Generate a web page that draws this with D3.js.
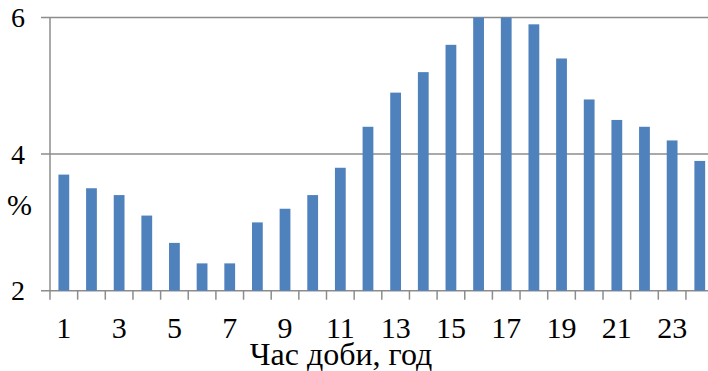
<!DOCTYPE html>
<html>
<head>
<meta charset="utf-8">
<script src="https://cdn.jsdelivr.net/npm/d3@7"></script>
</head>
<body style="margin:0">
<svg id="chart" width="708" height="371"></svg>
<script>
const hours = d3.range(1, 25).map(String);
const values = [3.7, 3.5, 3.4, 3.1, 2.7, 2.4, 2.4, 3.0, 3.2, 3.4, 3.8, 4.4,
                4.9, 5.2, 5.6, 6.0, 6.0, 5.9, 5.4, 4.8, 4.5, 4.4, 4.2, 3.9];
const yTicks = [2, 4, 6];
const xTickLabels = ["1","3","5","7","9","11","13","15","17","19","21","23"];
const yLabel = "%";
const xTitle = "Час доби, год";

const svg = d3.select("#chart");
const mLeft = 50, mTop = 17.5, mBottom = 290.7, mRight = 50 + 24 * 27.65;

const x = d3.scaleBand().domain(hours).range([mLeft, mRight]).paddingInner(0.61).paddingOuter(0.305);
const xb = d3.scaleBand().domain(hours).range([mLeft, mRight]);
const y = d3.scaleLinear().domain([2, 6]).range([mBottom, mTop]);

const lineColor = "#8c8c8c";

// gridlines
svg.append("g").selectAll("line").data(yTicks).join("line")
  .attr("x1", mLeft - 9).attr("x2", 708)
  .attr("y1", d => y(d)).attr("y2", d => y(d))
  .attr("stroke", lineColor).attr("stroke-width", 1.5);

// bars
svg.append("g").selectAll("rect").data(values).join("rect")
  .attr("x", (d, i) => x(hours[i]))
  .attr("width", x.bandwidth())
  .attr("y", d => y(d))
  .attr("height", d => y(2) - y(d))
  .attr("fill", "#4f81bd");

// y axis line
svg.append("line")
  .attr("x1", mLeft).attr("x2", mLeft).attr("y1", mTop).attr("y2", mBottom)
  .attr("stroke", lineColor).attr("stroke-width", 1.5);

// x tick marks at category boundaries
const boundaries = hours.map(h => xb(h)).concat([mRight]);
svg.append("g").selectAll("line").data(boundaries).join("line")
  .attr("x1", d => d).attr("x2", d => d)
  .attr("y1", mBottom).attr("y2", mBottom + 9)
  .attr("stroke", lineColor).attr("stroke-width", 1.5);

function label(parent, tx, ty, str, size, anchor) {
  return parent.append("text")
    .attr("x", tx).attr("y", ty)
    .attr("text-anchor", anchor)
    .style("font-family", "'Liberation Serif'")
    .style("font-size", size + "px")
    .style("fill", "#000")
    .text(str);
}

const gy = svg.append("g");
yTicks.forEach(t => label(gy, 25, y(t) + 9.5, t, 28, "end"));

const gx = svg.append("g");
xTickLabels.forEach(t => label(gx, xb(t) + xb.bandwidth() / 2, 338, t, 30, "middle"));

label(svg, 19.5, 215, yLabel, 30, "middle");
label(svg, 341, 365, xTitle, 32, "middle");
</script>
</body>
</html>
